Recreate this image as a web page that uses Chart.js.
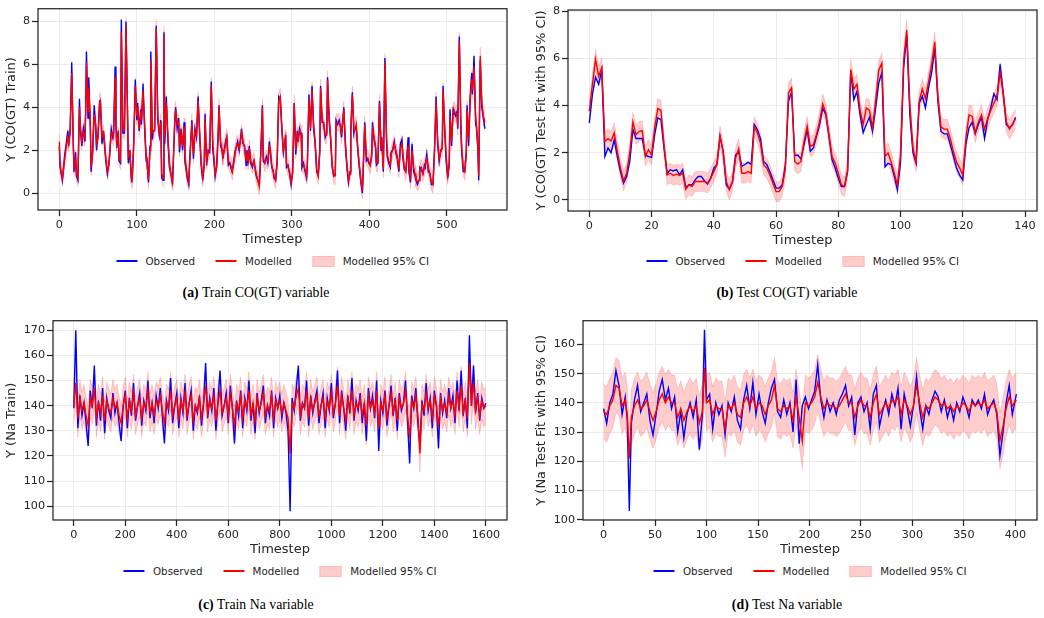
<!DOCTYPE html>
<html>
<head>
<meta charset="utf-8">
<title>Observed vs modelled fits</title>
<script src="https://cdn.jsdelivr.net/npm/chart.js@4.4.1/dist/chart.umd.min.js"></script>
<style>
    body { margin: 0; background: #fff; }
    #figure { position: relative; width: 1044px; height: 618px; overflow: hidden; background: #fff; }
    .panel { position: absolute; }
    .legend { position: absolute; transform: translateX(-50%); display: flex; align-items: center; gap: 20.5px; height: 12px;
              font: 10.3px 'DejaVu Sans', sans-serif; color: #262626; white-space: nowrap; }
    .legend .item { display: flex; align-items: center; }
    .legend .line { width: 21px; height: 1.5px; margin-right: 8.5px; }
    .legend .box { width: 20px; height: 9px; margin-right: 8.5px; background: #ffcccc; border: 1px solid #ffb8b8; }
    .caption { position: absolute; transform: translate(-50%, -50%); font: 13.8px 'Liberation Serif', 'Times New Roman', serif;
               color: #000; white-space: nowrap; }
</style>
</head>
<body>
<div id="figure">
    <div class="panel" style="left:0;top:0"><canvas id="chart-train-co" width="522" height="252"></canvas></div>
    <div class="panel" style="left:522px;top:0"><canvas id="chart-test-co" width="522" height="252"></canvas></div>
    <div class="panel" style="left:0;top:312px"><canvas id="chart-train-na" width="522" height="252"></canvas></div>
    <div class="panel" style="left:522px;top:312px"><canvas id="chart-test-na" width="522" height="252"></canvas></div>

    <div class="legend" style="left:272.5px;top:255px">
        <div class="item"><span class="line" style="background:#0000ff"></span>Observed</div>
        <div class="item"><span class="line" style="background:#ff0000"></span>Modelled</div>
        <div class="item"><span class="box"></span>Modelled 95% CI</div>
    </div>
    <div class="legend" style="left:802.5px;top:255px">
        <div class="item"><span class="line" style="background:#0000ff"></span>Observed</div>
        <div class="item"><span class="line" style="background:#ff0000"></span>Modelled</div>
        <div class="item"><span class="box"></span>Modelled 95% CI</div>
    </div>
    <div class="legend" style="left:280px;top:565px">
        <div class="item"><span class="line" style="background:#0000ff"></span>Observed</div>
        <div class="item"><span class="line" style="background:#ff0000"></span>Modelled</div>
        <div class="item"><span class="box"></span>Modelled 95% CI</div>
    </div>
    <div class="legend" style="left:810px;top:565px">
        <div class="item"><span class="line" style="background:#0000ff"></span>Observed</div>
        <div class="item"><span class="line" style="background:#ff0000"></span>Modelled</div>
        <div class="item"><span class="box"></span>Modelled 95% CI</div>
    </div>

    <div class="caption" style="left:256px;top:293px"><b>(a)</b> Train CO(GT) variable</div>
    <div class="caption" style="left:787px;top:293px"><b>(b)</b> Test CO(GT) variable</div>
    <div class="caption" style="left:256px;top:605px"><b>(c)</b> Train Na variable</div>
    <div class="caption" style="left:787px;top:605px"><b>(d)</b> Test Na variable</div>
</div>

<script>
// start: Data
// (a) train CO(GT)
const trainCoSteps = [
    0, 1, 4, 7, 9, 11, 12, 14, 16, 18,
    19, 21, 22, 24, 26, 27, 29, 31, 33, 34,
    35, 37, 38, 40, 41, 43, 45, 47, 48, 50,
    52, 53, 55, 57, 58, 60, 62, 64, 65, 67,
    69, 70, 72, 73, 74, 76, 77, 79, 80, 82,
    84, 86, 88, 89, 91, 93, 94, 96, 98, 100,
    101, 103, 105, 106, 108, 110, 112, 113, 115, 117,
    118, 120, 121, 123, 125, 127, 129, 131, 132, 134,
    135, 136, 138, 140, 142, 144, 146, 149, 150, 152,
    154, 155, 157, 159, 161, 162, 165, 167, 168, 171,
    173, 175, 177, 179, 181, 183, 185, 187, 188, 190,
    192, 194, 196, 198, 199, 201, 203, 205, 206, 208,
    210, 211, 213, 215, 216, 218, 220, 222, 223, 225,
    227, 229, 230, 232, 234, 235, 237, 239, 241, 242,
    244, 245, 247, 249, 251, 254, 256, 258, 260, 262,
    263, 265, 267, 269, 271, 272, 274, 276, 277, 279,
    281, 283, 285, 287, 289, 292, 293, 295, 297, 299,
    301, 303, 305, 307, 308, 310, 312, 313, 315, 317,
    319, 320, 322, 324, 326, 328, 330, 332, 334, 336,
    337, 339, 341, 343, 345, 346, 348, 350, 352, 354,
    356, 357, 359, 361, 363, 364, 367, 369, 371, 373,
    375, 376, 378, 380, 381, 383, 385, 387, 389, 391,
    392, 394, 396, 398, 399, 401, 403, 404, 406, 408,
    409, 411, 413, 415, 416, 418, 420, 422, 423, 425,
    427, 428, 430, 432, 434, 436, 438, 440, 442, 443,
    445, 447, 450, 451, 453, 455, 457, 459, 460, 462,
    464, 465, 467, 469, 471, 472, 474, 476, 478, 480,
    482, 484, 486, 488, 490, 492, 494, 495, 497, 499,
    501, 503, 504, 506, 508, 509, 511, 513, 514, 516,
    518, 519, 521, 523, 525, 526, 528, 530, 532, 533,
    535, 537, 538, 540, 541, 543, 545, 547, 549
]
const trainCoObserved = [
    2.2, 1.2, 0.6, 1.8, 2.3, 2.9, 2.2, 3.0, 6.1, 2.2,
    1.0, 1.9, 0.8, 0.6, 4.4, 3.0, 2.2, 3.0, 2.4, 3.9,
    6.6, 3.5, 5.4, 3.0, 1.0, 2.0, 4.1, 3.0, 2.0, 2.8,
    4.3, 4.3, 2.3, 2.9, 2.4, 1.5, 0.9, 1.4, 1.8, 3.0,
    2.6, 2.8, 5.9, 3.2, 2.1, 2.9, 1.5, 1.4, 8.1, 2.8,
    2.8, 8.0, 3.8, 1.4, 2.0, 0.6, 0.7, 2.4, 5.3, 3.4,
    4.2, 2.9, 3.9, 3.2, 5.1, 3.0, 1.5, 1.6, 0.5, 2.2,
    6.6, 2.5, 2.9, 2.9, 7.8, 3.4, 2.7, 3.4, 0.7, 0.6,
    7.5, 2.3, 4.5, 2.5, 1.2, 0.9, 0.4, 3.5, 4.0, 3.0,
    3.5, 1.9, 3.0, 2.0, 3.3, 1.5, 0.7, 0.4, 1.4, 3.4,
    1.6, 3.0, 2.6, 4.5, 2.7, 1.3, 0.6, 1.4, 3.7, 1.3,
    2.0, 1.9, 5.2, 2.0, 1.7, 0.8, 1.3, 2.9, 4.1, 2.2,
    2.0, 1.6, 2.1, 2.5, 2.6, 1.3, 1.4, 1.1, 1.0, 1.5,
    2.0, 2.2, 2.4, 2.0, 2.6, 3.0, 2.3, 2.2, 1.3, 2.0,
    1.4, 2.2, 1.4, 1.2, 1.5, 0.8, 0.6, 0.4, 2.0, 4.1,
    1.5, 1.4, 1.7, 1.4, 2.4, 2.0, 1.2, 1.0, 0.7, 0.6,
    1.5, 4.5, 4.4, 3.0, 1.9, 2.7, 1.2, 1.3, 0.9, 0.4,
    1.0, 4.2, 1.8, 2.9, 2.4, 3.0, 2.7, 1.2, 1.4, 1.0,
    0.7, 1.4, 4.6, 2.9, 5.0, 3.0, 2.3, 1.0, 0.8, 2.0,
    5.0, 3.3, 3.3, 2.6, 2.8, 5.4, 3.4, 2.5, 1.2, 0.8,
    0.9, 3.4, 3.2, 3.4, 3.0, 2.6, 4.0, 2.2, 1.2, 0.5,
    1.0, 3.0, 4.7, 2.8, 3.0, 3.1, 2.0, 1.2, 0.5, 0.0,
    1.2, 3.3, 1.5, 1.6, 1.4, 1.3, 1.8, 3.3, 2.5, 2.1,
    1.3, 1.4, 4.3, 2.0, 2.6, 1.0, 6.3, 2.5, 1.7, 1.4,
    1.2, 1.9, 2.0, 2.4, 1.9, 1.6, 1.0, 2.3, 2.5, 1.7,
    1.1, 1.0, 2.6, 1.0, 0.5, 2.3, 1.0, 0.8, 0.6, 0.4,
    0.6, 1.2, 1.1, 0.9, 1.3, 1.2, 1.8, 1.0, 0.9, 0.4,
    0.4, 2.0, 4.5, 2.3, 1.5, 2.0, 2.1, 5.0, 3.0, 1.5,
    0.7, 1.4, 3.9, 2.2, 3.9, 3.9, 3.6, 3.8, 3.0, 7.3,
    2.9, 2.0, 1.0, 1.0, 2.0, 4.1, 2.2, 4.5, 5.6, 4.6,
    6.4, 3.2, 3.1, 2.0, 0.6, 6.2, 4.0, 3.5, 3.0
]
const trainCoModelled = [
    2.4, 1.3, 0.7, 1.6, 2.2, 2.6, 2.3, 2.8, 5.6, 2.5,
    1.2, 1.6, 1.0, 0.7, 4.0, 3.2, 2.4, 2.8, 2.6, 3.7,
    6.1, 3.8, 4.9, 3.4, 1.2, 1.8, 3.7, 3.2, 2.3, 2.6,
    4.2, 4.3, 2.6, 2.8, 2.5, 1.6, 1.0, 1.3, 1.9, 2.8,
    2.7, 2.6, 5.4, 3.6, 2.3, 2.7, 1.7, 1.5, 7.5, 3.0,
    2.9, 7.8, 3.6, 1.7, 1.9, 0.7, 0.6, 2.2, 5.0, 3.6,
    4.0, 3.0, 3.7, 3.4, 4.8, 3.3, 1.7, 1.5, 0.6, 2.0,
    6.2, 2.8, 2.8, 3.0, 7.7, 3.6, 2.8, 3.3, 0.9, 0.7,
    7.4, 2.6, 4.2, 2.7, 1.4, 0.9, 0.5, 3.3, 3.9, 3.2,
    3.3, 2.1, 2.8, 2.2, 3.1, 1.7, 0.8, 0.5, 1.3, 3.3,
    1.8, 2.9, 2.7, 4.3, 2.9, 1.4, 0.7, 1.3, 3.5, 1.5,
    1.9, 2.0, 5.0, 2.3, 1.8, 0.9, 1.2, 2.7, 4.0, 2.4,
    2.0, 1.7, 2.0, 2.4, 2.6, 1.5, 1.4, 1.2, 1.0, 1.4,
    1.9, 2.3, 2.3, 2.1, 2.5, 2.8, 2.4, 2.1, 1.5, 1.9,
    1.5, 2.1, 1.5, 1.3, 1.5, 0.9, 0.6, 0.3, 1.9, 4.0,
    1.7, 1.4, 1.6, 1.5, 2.2, 2.1, 1.3, 1.0, 0.8, 0.6,
    1.4, 4.3, 4.5, 3.1, 2.0, 2.6, 1.4, 1.2, 1.0, 0.5,
    0.9, 4.2, 2.0, 2.7, 2.5, 2.9, 2.8, 1.4, 1.3, 1.1,
    0.8, 1.3, 4.4, 3.0, 4.8, 3.2, 2.4, 1.1, 0.8, 1.9,
    4.9, 3.5, 3.2, 2.7, 2.7, 5.3, 3.6, 2.6, 1.3, 0.8,
    0.8, 3.3, 3.3, 3.3, 3.1, 2.7, 3.9, 2.4, 1.3, 0.6,
    0.9, 2.8, 4.6, 3.0, 2.9, 3.2, 2.1, 1.3, 0.6, 0.1,
    1.0, 3.2, 1.7, 1.6, 1.5, 1.3, 1.7, 3.0, 2.6, 2.2,
    1.4, 1.4, 4.2, 2.2, 2.5, 1.1, 6.1, 2.8, 1.8, 1.5,
    1.3, 1.8, 2.0, 2.3, 2.0, 1.7, 1.1, 2.1, 2.3, 1.9,
    1.2, 1.0, 2.2, 1.3, 0.6, 2.0, 1.2, 0.9, 0.7, 0.5,
    0.6, 1.1, 1.2, 0.9, 1.2, 1.3, 1.6, 1.2, 0.9, 0.5,
    0.4, 1.9, 4.3, 2.5, 1.6, 1.9, 2.1, 4.8, 3.2, 1.7,
    0.8, 1.3, 3.6, 2.4, 3.8, 3.9, 3.7, 3.7, 3.1, 7.1,
    3.3, 2.2, 1.2, 1.0, 1.8, 3.9, 2.5, 4.3, 5.3, 4.8,
    5.9, 3.6, 3.2, 2.2, 0.8, 6.4, 4.2, 3.6, 3.3
]
const trainCoBand = 0.4

// (b) test CO(GT), one value per timestep 0..137
const testCoObserved = [
    3.26, 4.47, 5.2, 4.9, 5.5, 1.84, 2.2, 2.0, 2.55, 1.84,
    1.2, 0.71, 1.0, 1.63, 2.98, 2.6, 2.6, 2.6, 1.9, 1.84,
    1.8, 2.77, 3.48, 3.4, 2.2, 1.13, 1.28, 1.23, 1.28, 1.06,
    1.28, 0.52, 0.64, 0.64, 0.85, 0.99, 0.99, 0.81, 0.67, 0.92,
    1.35, 1.5, 2.7, 2.05, 0.64, 0.45, 0.78, 1.9, 2.05, 1.42,
    1.5, 1.6, 1.5, 3.2, 2.98, 2.6, 1.63, 1.5, 1.2, 0.85,
    0.5, 0.5, 0.64, 1.5, 4.18, 4.58, 1.89, 1.89, 1.74, 2.34,
    2.98, 2.06, 2.2, 2.7, 3.19, 3.9, 3.6, 2.7, 1.7, 1.35,
    0.92, 0.57, 0.57, 1.2, 5.46, 4.25, 4.6, 3.6, 2.85, 3.2,
    3.5, 2.9, 3.9, 4.95, 5.4, 1.4, 1.55, 1.5, 1.0, 0.43,
    1.6, 5.6, 7.0, 3.6, 2.0, 1.55, 4.1, 4.4, 3.9, 4.75,
    5.4, 6.45, 4.2, 2.9, 2.8, 2.8, 2.35, 1.85, 1.35, 1.05,
    0.85, 2.35, 3.05, 3.3, 2.8, 3.2, 3.5, 2.6, 3.4, 3.9,
    4.5, 4.25, 5.75, 4.5, 3.2, 3.05, 3.2, 3.5
]
const testCoModelled = [
    3.76, 4.9, 5.96, 5.25, 5.6, 2.48, 2.6, 2.5, 2.84, 2.05,
    1.35, 0.81, 1.13, 1.99, 3.3, 2.77, 2.9, 2.94, 1.84, 2.13,
    1.9, 3.05, 3.87, 3.8, 2.34, 1.06, 1.13, 1.04, 1.09, 1.04,
    1.13, 0.45, 0.64, 0.57, 0.78, 0.78, 0.78, 0.78, 0.71, 0.92,
    1.2, 1.5, 2.7, 2.05, 0.78, 0.43, 0.78, 1.77, 2.17, 1.13,
    1.13, 1.2, 1.13, 3.1, 2.84, 2.4, 1.49, 1.35, 1.06, 0.71,
    0.35, 0.35, 0.57, 1.35, 4.54, 4.75, 1.63, 1.52, 1.63, 2.48,
    3.12, 2.27, 2.34, 2.77, 3.33, 4.07, 3.69, 2.77, 1.84, 1.56,
    1.13, 0.64, 0.57, 1.28, 5.53, 4.7, 4.9, 3.8, 3.2, 3.9,
    3.8, 3.05, 4.2, 5.5, 5.8, 1.85, 1.99, 1.6, 1.13, 0.64,
    1.9, 5.9, 7.2, 4.0, 2.2, 1.6, 4.2, 4.7, 4.3, 5.0,
    5.75, 6.7, 4.4, 3.1, 3.0, 3.0, 2.6, 2.05, 1.6, 1.35,
    1.05, 2.6, 3.6, 3.55, 2.85, 3.3, 3.6, 3.0, 3.45, 3.8,
    4.1, 4.4, 5.4, 4.5, 3.3, 3.0, 3.2, 3.45
]
const testCoSteps = testCoObserved.map((v, i) => i)
const testCoBand = 0.42

// (c) train Na, every 8th timestep 0..1600
const trainNaObserved = [
    139, 170, 131, 144, 136, 141, 133, 124, 146, 139, 156, 132, 142, 134, 147, 129, 143, 138, 135, 145,
    137, 141, 133, 126, 140, 146, 131, 143, 136, 149, 134, 140, 145, 132, 142, 138, 150, 135, 141, 133,
    144, 139, 147, 136, 125, 142, 138, 151, 133, 140, 145, 131, 143, 137, 149, 134, 141, 146, 130, 140,
    137, 144, 132, 141, 157, 135, 143, 138, 147, 130, 142, 154, 136, 140, 145, 133, 148, 139, 125, 142,
    136, 146, 131, 143, 138, 150, 134, 141, 129, 145, 137, 142, 148, 133, 140, 136, 146, 131, 143, 139,
    144, 135, 141, 137, 130, 98, 143, 138, 147, 156, 134, 141, 139, 150, 132, 144, 137, 142, 146, 133,
    140, 145, 131, 143, 138, 149, 135, 141, 154, 133, 146, 139, 130, 144, 137, 151, 134, 142, 138, 145,
    133, 141, 126, 147, 139, 144, 135, 150, 122, 142, 137, 146, 132, 140, 148, 136, 143, 130, 145, 138,
    141, 150, 134, 117, 144, 139, 147, 133, 124, 142, 136, 149, 138, 143, 131, 146, 140, 123, 145, 137,
    142, 135, 147, 139, 144, 133, 150, 138, 154, 136, 143, 131, 168, 140, 156, 137, 145, 134, 143, 139,
    141
]
const trainNaModelled = [
    140, 149, 135, 143, 138, 141, 136, 132, 143, 140, 147, 135, 141, 137, 144, 134, 142, 139, 137, 143,
    139, 141, 136, 133, 140, 144, 135, 142, 138, 145, 136, 140, 143, 135, 141, 139, 146, 137, 141, 136,
    142, 140, 144, 138, 133, 141, 139, 146, 136, 140, 143, 135, 142, 138, 145, 136, 141, 144, 134, 140,
    138, 143, 135, 141, 148, 137, 142, 139, 144, 134, 141, 146, 137, 140, 143, 136, 145, 139, 132, 141,
    138, 144, 135, 142, 139, 146, 136, 141, 134, 143, 138, 141, 145, 136, 140, 138, 144, 135, 142, 139,
    142, 137, 141, 138, 135, 121, 141, 139, 144, 147, 136, 141, 139, 146, 135, 143, 138, 141, 144, 136,
    140, 143, 135, 142, 139, 145, 137, 141, 148, 136, 144, 139, 134, 143, 138, 146, 136, 141, 139, 143,
    136, 141, 132, 144, 139, 142, 137, 146, 131, 141, 138, 144, 135, 140, 145, 137, 142, 134, 143, 139,
    141, 146, 136, 127, 142, 139, 144, 136, 121, 141, 138, 145, 139, 142, 135, 144, 140, 131, 143, 138,
    141, 137, 144, 139, 142, 136, 146, 139, 148, 137, 142, 135, 157, 140, 149, 138, 143, 136, 142, 139,
    140
]
const trainNaSteps = trainNaObserved.map((v, i) => i * 8)
const trainNaBand = 7.5

// (d) test Na
const testNaSteps = [
    0, 3, 6, 9, 12, 15, 18, 21, 23, 25,
    27, 30, 33, 36, 39, 42, 45, 48, 51, 54,
    57, 60, 63, 66, 69, 72, 75, 78, 81, 84,
    87, 90, 93, 96, 98, 100, 103, 106, 109, 112,
    115, 118, 121, 124, 127, 130, 133, 136, 139, 142,
    145, 148, 151, 154, 157, 160, 163, 166, 169, 172,
    175, 178, 181, 184, 187, 190, 193, 196, 199, 202,
    205, 208, 211, 214, 217, 220, 223, 226, 229, 232,
    235, 238, 241, 244, 247, 250, 253, 256, 259, 262,
    265, 268, 271, 274, 277, 280, 283, 286, 289, 292,
    295, 298, 301, 304, 307, 310, 313, 316, 319, 322,
    325, 328, 331, 334, 337, 340, 343, 346, 349, 352,
    355, 358, 361, 364, 367, 370, 373, 376, 379, 382,
    385, 388, 391, 394, 397, 401
]
const testNaObserved = [
    138, 133, 140, 143, 151, 146, 136, 142, 134, 103,
    133, 141, 146, 137, 140, 143, 134, 129, 136, 144,
    148, 141, 145, 138, 142, 130, 137, 128, 136, 140,
    135, 141, 124, 136, 165, 141, 143, 131, 140, 136,
    139, 129, 140, 137, 142, 134, 131, 141, 146, 138,
    147, 136, 143, 137, 133, 140, 145, 148, 137, 135,
    141, 136, 140, 130, 148, 126, 139, 142, 138, 141,
    144, 153, 141, 135, 141, 137, 140, 136, 141, 143,
    146, 139, 142, 129, 140, 142, 137, 140, 131, 143,
    146, 132, 137, 141, 136, 143, 139, 145, 131, 143,
    138, 132, 139, 149, 138, 131, 139, 136, 141, 144,
    142, 137, 141, 135, 139, 134, 140, 137, 142, 139,
    135, 141, 139, 141, 138, 143, 136, 139, 141, 136,
    122, 130, 140, 146, 136, 143
]
const testNaModelled = [
    137, 136, 139, 141, 146, 145, 139, 141, 136, 121,
    135, 139, 141, 138, 139, 141, 137, 134, 137, 141,
    143, 140, 142, 140, 140, 135, 138, 134, 137, 139,
    137, 139, 133, 137, 152, 140, 141, 136, 139, 138,
    138, 131, 139, 138, 140, 136, 135, 140, 142, 139,
    142, 138, 140, 139, 136, 139, 141, 146, 138, 137,
    139, 138, 139, 134, 142, 135, 127, 140, 139, 140,
    142, 147, 142, 138, 140, 139, 139, 138, 139, 141,
    143, 140, 140, 135, 139, 141, 139, 139, 135, 140,
    143, 136, 138, 140, 138, 141, 140, 142, 136, 141,
    139, 136, 139, 146, 140, 135, 139, 138, 140, 142,
    141, 139, 140, 138, 139, 137, 139, 138, 140, 139,
    137, 140, 139, 140, 139, 141, 138, 139, 140, 137,
    127, 132, 138, 142, 139, 141
]
const testNaBand = 9.5

// tick labels
const trainCoXTicks = [0, 100, 200, 300, 400, 500]
const coYTicks = [0, 2, 4, 6, 8]
const testCoXTicks = [0, 20, 40, 60, 80, 100, 120, 140]
const trainNaXTicks = [0, 200, 400, 600, 800, 1000, 1200, 1400, 1600]
const trainNaYTicks = [100, 110, 120, 130, 140, 150, 160, 170]
const testNaXTicks = [0, 50, 100, 150, 200, 250, 300, 350, 400]
const testNaYTicks = [100, 110, 120, 130, 140, 150, 160]
// end: Data


// start: Charts
Chart.defaults.font.family = "'DejaVu Sans', sans-serif"
Chart.defaults.color = '#262626'

const ink = '#262626'

// black frame around the plotting area, like matplotlib spines
const framePlugin = {
    id: 'frame',
    afterDatasetsDraw(chart) {
        const {ctx, chartArea} = chart
        ctx.save()
        ctx.strokeStyle = ink
        ctx.lineWidth = 1.25
        ctx.strokeRect(chartArea.left, chartArea.top, chartArea.right - chartArea.left, chartArea.bottom - chartArea.top)
        ctx.restore()
    }
}

function drawPanel(canvasId, p) {
    const xy = values => p.steps.map((x, i) => ({x: x, y: values[i]}))
    const lower = p.modelled.map(v => v - p.band)
    const upper = p.modelled.map(v => v + p.band)
    const grid = {color: '#ebebeb', lineWidth: 1, tickLength: 6, tickColor: ink, tickWidth: 1.25}
    const tickFont = {size: 11.2}

    return new Chart(document.getElementById(canvasId), {
        type: 'line',
        data: {
            datasets: [
                {label: 'Modelled', data: xy(p.modelled), borderColor: '#ff0000', borderWidth: 1.4, pointRadius: 0, fill: false, order: 0},
                {label: 'Observed', data: xy(p.observed), borderColor: '#0000ff', borderWidth: 1.4, pointRadius: 0, fill: false, order: 1},
                {label: 'CI lower', data: xy(lower), borderColor: 'rgba(255,0,0,0.15)', borderWidth: 1, pointRadius: 0, fill: false, order: 2},
                {label: 'Modelled 95% CI', data: xy(upper), borderColor: 'rgba(255,0,0,0.15)', borderWidth: 1, pointRadius: 0,
                 fill: '-1', backgroundColor: 'rgba(255,0,0,0.2)', order: 2}
            ]
        },
        options: {
            responsive: false,
            animation: false,
            layout: {padding: {left: 0, top: p.padTop, right: p.padRight, bottom: 0}},
            plugins: {
                legend: {display: false},
                tooltip: {enabled: false}
            },
            scales: {
                x: {
                    type: 'linear',
                    min: p.xRange[0],
                    max: p.xRange[1],
                    afterBuildTicks: s => { s.ticks = p.xTicks.map(v => ({value: v})) },
                    afterFit: s => { s.height = p.xHeight },
                    grid: grid,
                    border: {display: false},
                    ticks: {font: tickFont, color: ink, padding: 2, maxRotation: 0, autoSkip: false, callback: v => String(v)},
                    title: {display: true, text: 'Timestep', font: {size: 13}, color: ink, padding: {top: 0, bottom: p.xTitlePad}}
                },
                y: {
                    type: 'linear',
                    min: p.yRange[0],
                    max: p.yRange[1],
                    afterBuildTicks: s => { s.ticks = p.yTicks.map(v => ({value: v})) },
                    afterFit: s => { s.width = p.yWidth },
                    grid: grid,
                    border: {display: false},
                    ticks: {font: tickFont, color: ink, padding: 2, autoSkip: false, callback: v => String(v)},
                    title: {display: true, text: p.yTitle, font: {size: 13}, color: ink, padding: {top: p.yTitlePad, bottom: 0}}
                }
            }
        },
        plugins: [framePlugin]
    })
}

const trainCoChart = drawPanel('chart-train-co', {
    steps: trainCoSteps, observed: trainCoObserved, modelled: trainCoModelled, band: trainCoBand,
    xTicks: trainCoXTicks, yTicks: coYTicks, xRange: [-27.5, 577.5], yRange: [-0.79, 8.6],
    yTitle: 'Y (CO(GT) Train)', padTop: 7, padRight: 15, yWidth: 38, xHeight: 42, xTitlePad: 4.2, yTitlePad: 4.2
})

const testCoChart = drawPanel('chart-test-co', {
    steps: testCoSteps, observed: testCoObserved, modelled: testCoModelled, band: testCoBand,
    xTicks: testCoXTicks, yTicks: coYTicks, xRange: [-6.85, 143.85], yRange: [-0.47, 8.05],
    yTitle: 'Y (CO(GT) Test Fit with 95% CI)', padTop: 10, padRight: 7, yWidth: 46, xHeight: 41, xTitlePad: 3.2, yTitlePad: 12.2
})

const trainNaChart = drawPanel('chart-train-na', {
    steps: trainNaSteps, observed: trainNaObserved, modelled: trainNaModelled, band: trainNaBand,
    xTicks: trainNaXTicks, yTicks: trainNaYTicks, xRange: [-80.5, 1682], yRange: [94.5, 173.8],
    yTitle: 'Y (Na Train)', padTop: 5, padRight: 15, yWidth: 53, xHeight: 44, xTitlePad: 6.2, yTitlePad: 4.2
})

const testNaChart = drawPanel('chart-test-na', {
    steps: testNaSteps, observed: testNaObserved, modelled: testNaModelled, band: testNaBand,
    xTicks: testNaXTicks, yTicks: testNaYTicks, xRange: [-20, 421], yRange: [99.9, 168.1],
    yTitle: 'Y (Na Test Fit with 95% CI)', padTop: 5, padRight: 7, yWidth: 61, xHeight: 44, xTitlePad: 6.2, yTitlePad: 12.2
})
// end: Charts
</script>
</body>
</html>
